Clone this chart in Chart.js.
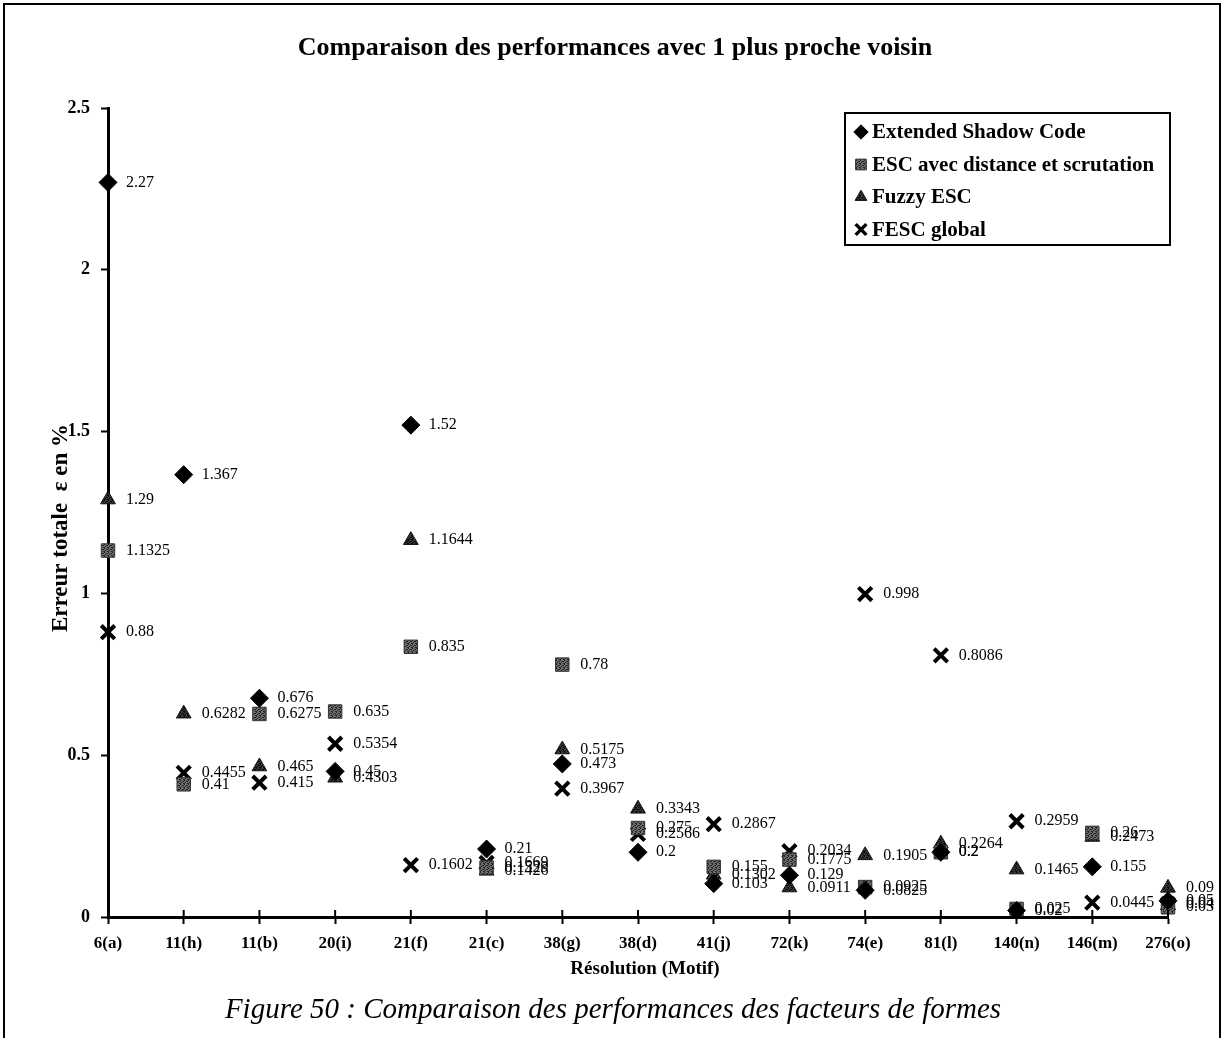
<!DOCTYPE html>
<html lang="fr">
<head>
<meta charset="utf-8">
<title>Comparaison des performances avec 1 plus proche voisin</title>
<script src="https://cdn.jsdelivr.net/npm/chart.js@4.4.1/dist/chart.umd.min.js"></script>
<style>
  html, body { margin: 0; padding: 0; background: #fff; }
  #wrap { width: 1225px; height: 1038px; }
</style>
</head>
<body>
<div id="wrap"><canvas id="perfChart" width="1225" height="1038"></canvas></div>
<script>
// Résolution (motif) on the x axis
const categories = ['6(a)', '11(h)', '11(b)', '20(i)', '21(f)', '21(c)', '38(g)', '38(d)', '41(j)', '72(k)', '74(e)', '81(l)', '140(n)', '146(m)', '276(o)'];

// Erreur totale (%) per method
const escValues      = [2.27, 1.367, 0.676, 0.45, 1.52, 0.21, 0.473, 0.2, 0.103, 0.129, 0.0825, 0.2, 0.02, 0.155, 0.05];
const escDistValues  = [1.1325, 0.41, 0.6275, 0.635, 0.835, 0.1529, 0.78, 0.275, 0.155, 0.1775, 0.0925, 0.2, 0.025, 0.26, 0.03];
const fuzzyValues    = [1.29, 0.6282, 0.465, 0.4303, 1.1644, 0.1426, 0.5175, 0.3343, 0.1302, 0.0911, 0.1905, 0.2264, 0.1465, 0.2473, 0.09];
const fescValues     = [0.88, 0.4455, 0.415, 0.5354, 0.1602, 0.1669, 0.3967, 0.2566, 0.2867, 0.2034, 0.998, 0.8086, 0.2959, 0.0445, 0.04];

const seriesNames = ['Extended Shadow Code', 'ESC avec distance et scrutation', 'Fuzzy ESC', 'FESC global'];
const yTickValues = [0, 0.5, 1, 1.5, 2, 2.5];

const SERIF = '"Liberation Serif", "Times New Roman", serif';

// small speckled fill, like a scanned halftone
function speckle(base, dark) {
    const c = document.createElement('canvas');
    c.width = c.height = 4;
    const g = c.getContext('2d');
    g.fillStyle = base;
    g.fillRect(0, 0, 4, 4);
    g.fillStyle = dark;
    [[0, 0], [2, 1], [1, 2], [3, 3], [3, 1], [0, 3]].forEach(([x, y]) => g.fillRect(x, y, 1, 1));
    return g.createPattern(c, 'repeat');
}

document.addEventListener('DOMContentLoaded', () => {
    const ctx = document.getElementById('perfChart').getContext('2d');

    const squareFill = speckle('#6e6e6e', '#222');
    const triangleFill = speckle('#3a3a3a', '#000');

    const styles = [
        {pointStyle: 'rectRot', pointRadius: 9, pointBackgroundColor: '#000', pointBorderColor: '#000', pointBorderWidth: 1},
        {pointStyle: 'rect', pointRadius: 9.5, pointBackgroundColor: squareFill, pointBorderColor: '#333', pointBorderWidth: 1},
        {pointStyle: 'triangle', pointRadius: 8.5, pointBackgroundColor: triangleFill, pointBorderColor: '#111', pointBorderWidth: 1},
        {pointStyle: 'crossRot', pointRadius: 9.5, pointBackgroundColor: '#000', pointBorderColor: '#000', pointBorderWidth: 4}
    ];
    const values = [escValues, escDistValues, fuzzyValues, fescValues];

    // value printed to the right of every marker
    const valueLabels = {
        id: 'valueLabels',
        afterDatasetsDraw(chart) {
            const c = chart.ctx;
            c.save();
            c.beginPath();
            c.rect(0, 0, 1220, 1038);
            c.clip();
            c.font = '16px ' + SERIF;
            c.fillStyle = '#000';
            c.textAlign = 'left';
            c.textBaseline = 'middle';
            chart.data.datasets.forEach((ds, i) => {
                chart.getDatasetMeta(i).data.forEach((pt, j) => {
                    const v = ds.data[j];
                    if (v == null) return;
                    c.fillText(String(v), pt.x + 18, pt.y);
                });
            });
            c.restore();
        }
    };

    // title, axis titles, legend box, caption and frame
    const decorations = {
        id: 'decorations',
        afterDraw(chart) {
            const c = chart.ctx;
            const area = chart.chartArea;
            c.save();
            c.fillStyle = '#000';
            c.textAlign = 'center';
            c.textBaseline = 'middle';

            c.font = 'bold 26px ' + SERIF;
            c.fillText('Comparaison des performances avec 1 plus proche voisin', 615, 48);

            c.font = 'bold 19px ' + SERIF;
            c.fillText('Résolution (Motif)', 645, 969);

            c.save();
            c.translate(61, 528);
            c.rotate(-Math.PI / 2);
            c.font = 'bold 23px ' + SERIF;
            c.fillText('Erreur totale  ε en %', 0, 0);
            c.restore();

            c.font = 'italic 29px ' + SERIF;
            c.fillText('Figure 50 : Comparaison des performances des facteurs de formes', 613, 1010);

            // x ticks also reach into the plot
            const xs = chart.scales.x;
            c.strokeStyle = '#000';
            c.lineWidth = 2;
            categories.forEach((_, i) => {
                const px = xs.getPixelForTick(i);
                c.beginPath();
                c.moveTo(px, area.bottom);
                c.lineTo(px, area.bottom - 7);
                c.stroke();
            });

            // legend
            c.lineWidth = 2;
            c.strokeRect(845, 113, 325, 132);
            c.textAlign = 'left';
            c.font = 'bold 21px ' + SERIF;
            seriesNames.forEach((name, i) => {
                const y = 132 + i * 32.5;
                const s = styles[i];
                c.fillStyle = s.pointBackgroundColor;
                c.strokeStyle = s.pointBorderColor;
                c.lineWidth = s.pointStyle === 'crossRot' ? 3.5 : 1;
                Chart.helpers.drawPoint(c, {
                    pointStyle: s.pointStyle,
                    radius: s.pointRadius * 0.8,
                    rotation: 0,
                    borderWidth: c.lineWidth
                }, 861, y);
                c.fillStyle = '#000';
                c.fillText(name, 872, y + 1);
            });

            // page frame
            c.strokeStyle = '#000';
            c.lineWidth = 2;
            c.strokeRect(4, 4, 1216, 1100);
            c.restore();
        }
    };

    new Chart(ctx, {
        type: 'line',
        data: {
            labels: categories,
            datasets: seriesNames.map((name, i) => Object.assign({
                label: name,
                data: values[i],
                showLine: false,
                clip: false
            }, styles[i]))
        },
        options: {
            responsive: false,
            animation: false,
            devicePixelRatio: 1,
            layout: {padding: {left: 0, right: 57, top: 108, bottom: 0}},
            plugins: {
                legend: {display: false},
                title: {display: false},
                tooltip: {enabled: false}
            },
            scales: {
                x: {
                    type: 'category',
                    offset: false,
                    grid: {drawOnChartArea: false, offset: false, tickLength: 7, tickColor: '#000', tickWidth: 2},
                    border: {color: '#000', width: 3},
                    ticks: {
                        color: '#000',
                        font: {family: SERIF, size: 17, weight: 'bold'},
                        padding: 9,
                        maxRotation: 0,
                        autoSkip: false
                    },
                    afterFit(scale) { scale.height = 121; }
                },
                y: {
                    min: 0,
                    max: 2.5,
                    afterBuildTicks(scale) { scale.ticks = yTickValues.map(v => ({value: v})); },
                    grid: {drawOnChartArea: false, tickLength: 7, tickColor: '#000', tickWidth: 2},
                    border: {color: '#000', width: 3},
                    ticks: {
                        color: '#000',
                        font: {family: SERIF, size: 18, weight: 'bold'},
                        padding: 11,
                        callback: (v) => String(v)
                    },
                    afterFit(scale) { scale.width = 108; }
                }
            }
        },
        plugins: [valueLabels, decorations]
    });
});
</script>
</body>
</html>
